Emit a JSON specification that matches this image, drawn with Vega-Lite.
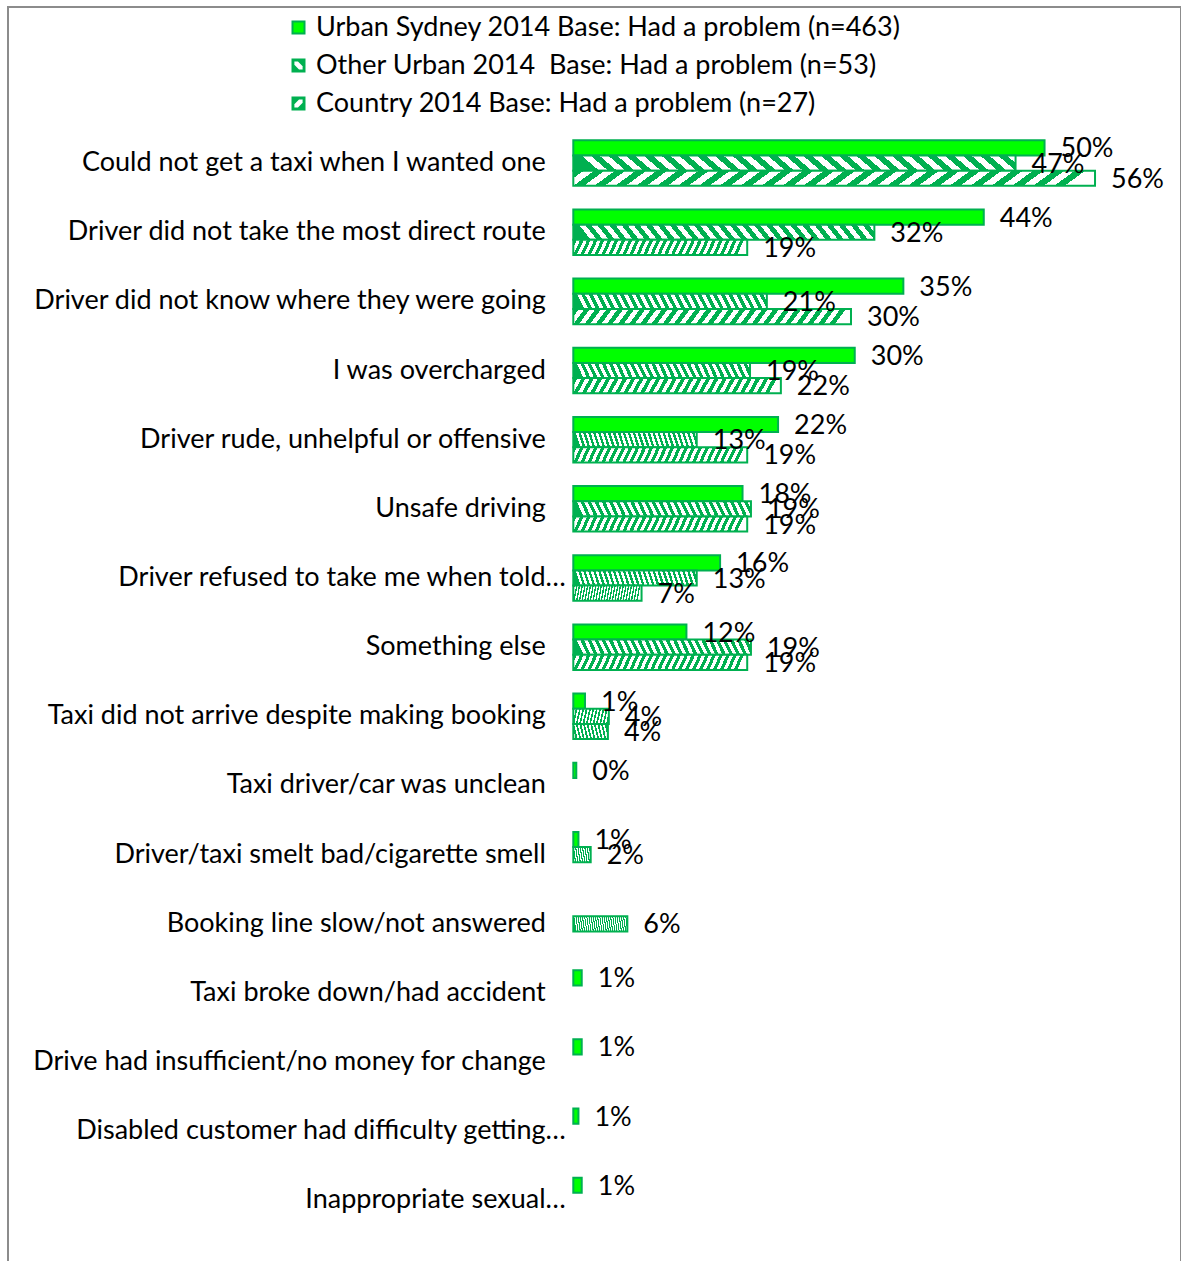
{
  "$schema": "https://vega.github.io/schema/vega-lite/v6.json",
  "width": 1173,
  "height": 1256,
  "padding": {"left": 8, "top": 7, "right": 0, "bottom": 0},
  "background": "white",
  "view": {"stroke": "#8C8C8C", "strokeWidth": 2},
  "config": {"font": "Lato"},
  "datasets": {
    "rows": [
      {"problem": "Could not get a taxi when I wanted one", "series": "Urban Sydney 2014 Base: Had a problem (n=463)", "value": 0.504},
      {"problem": "Could not get a taxi when I wanted one", "series": "Other Urban 2014\u00a0 Base: Had a problem (n=53)", "value": 0.473},
      {"problem": "Could not get a taxi when I wanted one", "series": "Country 2014 Base: Had a problem (n=27)", "value": 0.558},
      {"problem": "Driver did not take the most direct route", "series": "Urban Sydney 2014 Base: Had a problem (n=463)", "value": 0.439},
      {"problem": "Driver did not take the most direct route", "series": "Other Urban 2014\u00a0 Base: Had a problem (n=53)", "value": 0.322},
      {"problem": "Driver did not take the most direct route", "series": "Country 2014 Base: Had a problem (n=27)", "value": 0.186},
      {"problem": "Driver did not know where they were going", "series": "Urban Sydney 2014 Base: Had a problem (n=463)", "value": 0.353},
      {"problem": "Driver did not know where they were going", "series": "Other Urban 2014\u00a0 Base: Had a problem (n=53)", "value": 0.207},
      {"problem": "Driver did not know where they were going", "series": "Country 2014 Base: Had a problem (n=27)", "value": 0.297},
      {"problem": "I was overcharged", "series": "Urban Sydney 2014 Base: Had a problem (n=463)", "value": 0.301},
      {"problem": "I was overcharged", "series": "Other Urban 2014\u00a0 Base: Had a problem (n=53)", "value": 0.189},
      {"problem": "I was overcharged", "series": "Country 2014 Base: Had a problem (n=27)", "value": 0.222},
      {"problem": "Driver rude, unhelpful or offensive", "series": "Urban Sydney 2014 Base: Had a problem (n=463)", "value": 0.219},
      {"problem": "Driver rude, unhelpful or offensive", "series": "Other Urban 2014\u00a0 Base: Had a problem (n=53)", "value": 0.132},
      {"problem": "Driver rude, unhelpful or offensive", "series": "Country 2014 Base: Had a problem (n=27)", "value": 0.186},
      {"problem": "Unsafe driving", "series": "Urban Sydney 2014 Base: Had a problem (n=463)", "value": 0.181},
      {"problem": "Unsafe driving", "series": "Other Urban 2014\u00a0 Base: Had a problem (n=53)", "value": 0.19},
      {"problem": "Unsafe driving", "series": "Country 2014 Base: Had a problem (n=27)", "value": 0.186},
      {"problem": "Driver refused to take me when told…", "series": "Urban Sydney 2014 Base: Had a problem (n=463)", "value": 0.157},
      {"problem": "Driver refused to take me when told…", "series": "Other Urban 2014\u00a0 Base: Had a problem (n=53)", "value": 0.132},
      {"problem": "Driver refused to take me when told…", "series": "Country 2014 Base: Had a problem (n=27)", "value": 0.073},
      {"problem": "Something else", "series": "Urban Sydney 2014 Base: Had a problem (n=463)", "value": 0.121},
      {"problem": "Something else", "series": "Other Urban 2014\u00a0 Base: Had a problem (n=53)", "value": 0.19},
      {"problem": "Something else", "series": "Country 2014 Base: Had a problem (n=27)", "value": 0.186},
      {"problem": "Taxi did not arrive despite making booking", "series": "Urban Sydney 2014 Base: Had a problem (n=463)", "value": 0.0125},
      {"problem": "Taxi did not arrive despite making booking", "series": "Other Urban 2014\u00a0 Base: Had a problem (n=53)", "value": 0.038},
      {"problem": "Taxi did not arrive despite making booking", "series": "Country 2014 Base: Had a problem (n=27)", "value": 0.037},
      {"problem": "Taxi driver/car was unclean", "series": "Urban Sydney 2014 Base: Had a problem (n=463)", "value": 0.0032},
      {"problem": "Driver/taxi smelt bad/cigarette smell", "series": "Urban Sydney 2014 Base: Had a problem (n=463)", "value": 0.0055},
      {"problem": "Driver/taxi smelt bad/cigarette smell", "series": "Other Urban 2014\u00a0 Base: Had a problem (n=53)", "value": 0.0186},
      {"problem": "Booking line slow/not answered", "series": "Other Urban 2014\u00a0 Base: Had a problem (n=53)", "value": 0.0578},
      {"problem": "Taxi broke down/had accident", "series": "Urban Sydney 2014 Base: Had a problem (n=463)", "value": 0.009},
      {"problem": "Drive had insufficient/no money for change", "series": "Urban Sydney 2014 Base: Had a problem (n=463)", "value": 0.009},
      {"problem": "Disabled customer had difficulty getting…", "series": "Urban Sydney 2014 Base: Had a problem (n=463)", "value": 0.0055},
      {"problem": "Inappropriate sexual…", "series": "Urban Sydney 2014 Base: Had a problem (n=463)", "value": 0.009}
    ]
  },
  "data": {"name": "rows"},
  "encoding": {
    "y": {
      "field": "problem",
      "type": "nominal",
      "sort": null,
      "scale": {
        "domain": ["Could not get a taxi when I wanted one", "Driver did not take the most direct route", "Driver did not know where they were going", "I was overcharged", "Driver rude, unhelpful or offensive", "Unsafe driving", "Driver refused to take me when told…", "Something else", "Taxi did not arrive despite making booking", "Taxi driver/car was unclean", "Driver/taxi smelt bad/cigarette smell", "Booking line slow/not answered", "Taxi broke down/had accident", "Drive had insufficient/no money for change", "Disabled customer had difficulty getting…", "Inappropriate sexual…"],
        "range": [133.3, 1216.2],
        "paddingInner": 0.342,
        "paddingOuter": 0
      },
      "axis": {
        "orient": "left",
        "offset": -565.3,
        "domain": false,
        "ticks": false,
        "tickSize": 0,
        "grid": false,
        "title": null,
        "labelFont": "Lato",
        "labelFontSize": 27,
        "labelColor": "#000000",
        "labelLimit": 0,
        "labelPadding": {"condition": {"test": "indexof(datum.value, '…') >= 0", "value": 8}, "value": 28}
      }
    },
    "yOffset": {
      "field": "series",
      "type": "nominal",
      "scale": {
        "domain": ["Urban Sydney 2014 Base: Had a problem (n=463)", "Other Urban 2014\u00a0 Base: Had a problem (n=53)", "Country 2014 Base: Had a problem (n=27)"],
        "paddingInner": 0,
        "paddingOuter": 0
      }
    },
    "x": {
      "field": "value",
      "type": "quantitative",
      "scale": {"domain": [0, 0.6], "range": [565.3, 1126.3], "nice": false, "zero": true},
      "axis": null
    }
  },
  "layer": [
    {
      "mark": {"type": "bar", "stroke": "#00B050", "strokeWidth": 2},
      "encoding": {
        "fill": {
          "condition": [
            {"test": "datum.series === 'Other Urban 2014\u00a0 Base: Had a problem (n=53)'", "value": {"gradient": "linear", "x1": 0, "y1": 0.04, "x2": 1, "y2": 0, "stops": [
                {"offset": 0, "color": "#00B050"}, {"offset": 0.02, "color": "#00B050"}, {"offset": 0.02, "color": "#FFFFFF"}, {"offset": 0.04, "color": "#FFFFFF"},
                {"offset": 0.04, "color": "#00B050"}, {"offset": 0.06, "color": "#00B050"}, {"offset": 0.06, "color": "#FFFFFF"}, {"offset": 0.08, "color": "#FFFFFF"},
                {"offset": 0.08, "color": "#00B050"}, {"offset": 0.1, "color": "#00B050"}, {"offset": 0.1, "color": "#FFFFFF"}, {"offset": 0.12, "color": "#FFFFFF"},
                {"offset": 0.12, "color": "#00B050"}, {"offset": 0.14, "color": "#00B050"}, {"offset": 0.14, "color": "#FFFFFF"}, {"offset": 0.16, "color": "#FFFFFF"},
                {"offset": 0.16, "color": "#00B050"}, {"offset": 0.18, "color": "#00B050"}, {"offset": 0.18, "color": "#FFFFFF"}, {"offset": 0.2, "color": "#FFFFFF"},
                {"offset": 0.2, "color": "#00B050"}, {"offset": 0.22, "color": "#00B050"}, {"offset": 0.22, "color": "#FFFFFF"}, {"offset": 0.24, "color": "#FFFFFF"},
                {"offset": 0.24, "color": "#00B050"}, {"offset": 0.26, "color": "#00B050"}, {"offset": 0.26, "color": "#FFFFFF"}, {"offset": 0.28, "color": "#FFFFFF"},
                {"offset": 0.28, "color": "#00B050"}, {"offset": 0.3, "color": "#00B050"}, {"offset": 0.3, "color": "#FFFFFF"}, {"offset": 0.32, "color": "#FFFFFF"},
                {"offset": 0.32, "color": "#00B050"}, {"offset": 0.34, "color": "#00B050"}, {"offset": 0.34, "color": "#FFFFFF"}, {"offset": 0.36, "color": "#FFFFFF"},
                {"offset": 0.36, "color": "#00B050"}, {"offset": 0.38, "color": "#00B050"}, {"offset": 0.38, "color": "#FFFFFF"}, {"offset": 0.4, "color": "#FFFFFF"},
                {"offset": 0.4, "color": "#00B050"}, {"offset": 0.42, "color": "#00B050"}, {"offset": 0.42, "color": "#FFFFFF"}, {"offset": 0.44, "color": "#FFFFFF"},
                {"offset": 0.44, "color": "#00B050"}, {"offset": 0.46, "color": "#00B050"}, {"offset": 0.46, "color": "#FFFFFF"}, {"offset": 0.48, "color": "#FFFFFF"},
                {"offset": 0.48, "color": "#00B050"}, {"offset": 0.5, "color": "#00B050"}, {"offset": 0.5, "color": "#FFFFFF"}, {"offset": 0.52, "color": "#FFFFFF"},
                {"offset": 0.52, "color": "#00B050"}, {"offset": 0.54, "color": "#00B050"}, {"offset": 0.54, "color": "#FFFFFF"}, {"offset": 0.56, "color": "#FFFFFF"},
                {"offset": 0.56, "color": "#00B050"}, {"offset": 0.58, "color": "#00B050"}, {"offset": 0.58, "color": "#FFFFFF"}, {"offset": 0.6, "color": "#FFFFFF"},
                {"offset": 0.6, "color": "#00B050"}, {"offset": 0.62, "color": "#00B050"}, {"offset": 0.62, "color": "#FFFFFF"}, {"offset": 0.64, "color": "#FFFFFF"},
                {"offset": 0.64, "color": "#00B050"}, {"offset": 0.66, "color": "#00B050"}, {"offset": 0.66, "color": "#FFFFFF"}, {"offset": 0.68, "color": "#FFFFFF"},
                {"offset": 0.68, "color": "#00B050"}, {"offset": 0.7, "color": "#00B050"}, {"offset": 0.7, "color": "#FFFFFF"}, {"offset": 0.72, "color": "#FFFFFF"},
                {"offset": 0.72, "color": "#00B050"}, {"offset": 0.74, "color": "#00B050"}, {"offset": 0.74, "color": "#FFFFFF"}, {"offset": 0.76, "color": "#FFFFFF"},
                {"offset": 0.76, "color": "#00B050"}, {"offset": 0.78, "color": "#00B050"}, {"offset": 0.78, "color": "#FFFFFF"}, {"offset": 0.8, "color": "#FFFFFF"},
                {"offset": 0.8, "color": "#00B050"}, {"offset": 0.82, "color": "#00B050"}, {"offset": 0.82, "color": "#FFFFFF"}, {"offset": 0.84, "color": "#FFFFFF"},
                {"offset": 0.84, "color": "#00B050"}, {"offset": 0.86, "color": "#00B050"}, {"offset": 0.86, "color": "#FFFFFF"}, {"offset": 0.88, "color": "#FFFFFF"},
                {"offset": 0.88, "color": "#00B050"}, {"offset": 0.9, "color": "#00B050"}, {"offset": 0.9, "color": "#FFFFFF"}, {"offset": 0.92, "color": "#FFFFFF"},
                {"offset": 0.92, "color": "#00B050"}, {"offset": 0.94, "color": "#00B050"}, {"offset": 0.94, "color": "#FFFFFF"}, {"offset": 0.96, "color": "#FFFFFF"},
                {"offset": 0.96, "color": "#00B050"}, {"offset": 0.98, "color": "#00B050"}, {"offset": 0.98, "color": "#FFFFFF"}, {"offset": 1, "color": "#FFFFFF"}
              ]}},
            {"test": "datum.series === 'Country 2014 Base: Had a problem (n=27)'", "value": {"gradient": "linear", "x1": 0, "y1": 0, "x2": 1, "y2": 0.04, "stops": [
                {"offset": 0, "color": "#00B050"}, {"offset": 0.02, "color": "#00B050"}, {"offset": 0.02, "color": "#FFFFFF"}, {"offset": 0.04, "color": "#FFFFFF"},
                {"offset": 0.04, "color": "#00B050"}, {"offset": 0.06, "color": "#00B050"}, {"offset": 0.06, "color": "#FFFFFF"}, {"offset": 0.08, "color": "#FFFFFF"},
                {"offset": 0.08, "color": "#00B050"}, {"offset": 0.1, "color": "#00B050"}, {"offset": 0.1, "color": "#FFFFFF"}, {"offset": 0.12, "color": "#FFFFFF"},
                {"offset": 0.12, "color": "#00B050"}, {"offset": 0.14, "color": "#00B050"}, {"offset": 0.14, "color": "#FFFFFF"}, {"offset": 0.16, "color": "#FFFFFF"},
                {"offset": 0.16, "color": "#00B050"}, {"offset": 0.18, "color": "#00B050"}, {"offset": 0.18, "color": "#FFFFFF"}, {"offset": 0.2, "color": "#FFFFFF"},
                {"offset": 0.2, "color": "#00B050"}, {"offset": 0.22, "color": "#00B050"}, {"offset": 0.22, "color": "#FFFFFF"}, {"offset": 0.24, "color": "#FFFFFF"},
                {"offset": 0.24, "color": "#00B050"}, {"offset": 0.26, "color": "#00B050"}, {"offset": 0.26, "color": "#FFFFFF"}, {"offset": 0.28, "color": "#FFFFFF"},
                {"offset": 0.28, "color": "#00B050"}, {"offset": 0.3, "color": "#00B050"}, {"offset": 0.3, "color": "#FFFFFF"}, {"offset": 0.32, "color": "#FFFFFF"},
                {"offset": 0.32, "color": "#00B050"}, {"offset": 0.34, "color": "#00B050"}, {"offset": 0.34, "color": "#FFFFFF"}, {"offset": 0.36, "color": "#FFFFFF"},
                {"offset": 0.36, "color": "#00B050"}, {"offset": 0.38, "color": "#00B050"}, {"offset": 0.38, "color": "#FFFFFF"}, {"offset": 0.4, "color": "#FFFFFF"},
                {"offset": 0.4, "color": "#00B050"}, {"offset": 0.42, "color": "#00B050"}, {"offset": 0.42, "color": "#FFFFFF"}, {"offset": 0.44, "color": "#FFFFFF"},
                {"offset": 0.44, "color": "#00B050"}, {"offset": 0.46, "color": "#00B050"}, {"offset": 0.46, "color": "#FFFFFF"}, {"offset": 0.48, "color": "#FFFFFF"},
                {"offset": 0.48, "color": "#00B050"}, {"offset": 0.5, "color": "#00B050"}, {"offset": 0.5, "color": "#FFFFFF"}, {"offset": 0.52, "color": "#FFFFFF"},
                {"offset": 0.52, "color": "#00B050"}, {"offset": 0.54, "color": "#00B050"}, {"offset": 0.54, "color": "#FFFFFF"}, {"offset": 0.56, "color": "#FFFFFF"},
                {"offset": 0.56, "color": "#00B050"}, {"offset": 0.58, "color": "#00B050"}, {"offset": 0.58, "color": "#FFFFFF"}, {"offset": 0.6, "color": "#FFFFFF"},
                {"offset": 0.6, "color": "#00B050"}, {"offset": 0.62, "color": "#00B050"}, {"offset": 0.62, "color": "#FFFFFF"}, {"offset": 0.64, "color": "#FFFFFF"},
                {"offset": 0.64, "color": "#00B050"}, {"offset": 0.66, "color": "#00B050"}, {"offset": 0.66, "color": "#FFFFFF"}, {"offset": 0.68, "color": "#FFFFFF"},
                {"offset": 0.68, "color": "#00B050"}, {"offset": 0.7, "color": "#00B050"}, {"offset": 0.7, "color": "#FFFFFF"}, {"offset": 0.72, "color": "#FFFFFF"},
                {"offset": 0.72, "color": "#00B050"}, {"offset": 0.74, "color": "#00B050"}, {"offset": 0.74, "color": "#FFFFFF"}, {"offset": 0.76, "color": "#FFFFFF"},
                {"offset": 0.76, "color": "#00B050"}, {"offset": 0.78, "color": "#00B050"}, {"offset": 0.78, "color": "#FFFFFF"}, {"offset": 0.8, "color": "#FFFFFF"},
                {"offset": 0.8, "color": "#00B050"}, {"offset": 0.82, "color": "#00B050"}, {"offset": 0.82, "color": "#FFFFFF"}, {"offset": 0.84, "color": "#FFFFFF"},
                {"offset": 0.84, "color": "#00B050"}, {"offset": 0.86, "color": "#00B050"}, {"offset": 0.86, "color": "#FFFFFF"}, {"offset": 0.88, "color": "#FFFFFF"},
                {"offset": 0.88, "color": "#00B050"}, {"offset": 0.9, "color": "#00B050"}, {"offset": 0.9, "color": "#FFFFFF"}, {"offset": 0.92, "color": "#FFFFFF"},
                {"offset": 0.92, "color": "#00B050"}, {"offset": 0.94, "color": "#00B050"}, {"offset": 0.94, "color": "#FFFFFF"}, {"offset": 0.96, "color": "#FFFFFF"},
                {"offset": 0.96, "color": "#00B050"}, {"offset": 0.98, "color": "#00B050"}, {"offset": 0.98, "color": "#FFFFFF"}, {"offset": 1, "color": "#FFFFFF"}
              ]}}
          ],
          "value": "#00FF00"
        }
      }
    },
    {
      "mark": {"type": "text", "align": "left", "baseline": "middle", "dx": 16, "dy": 1.5, "fontSize": 27, "font": "Lato", "color": "#000000"},
      "encoding": {
        "text": {"field": "value", "type": "quantitative", "format": ".0%"}
      }
    },
    {
      "transform": [{"filter": "datum.value < 0"}],
      "mark": {"type": "point", "filled": true, "strokeWidth": 2, "opacity": 1},
      "encoding": {
        "fill": {
          "field": "series",
          "type": "nominal",
          "scale": {
            "domain": ["Urban Sydney 2014 Base: Had a problem (n=463)", "Other Urban 2014\u00a0 Base: Had a problem (n=53)", "Country 2014 Base: Had a problem (n=27)"],
            "range": ["#00FF00", "#00B050", "#00B050"]
          },
          "legend": {"orient": "none", "legendX": 277, "legendY": 7, "title": null, "padding": 0, "labelFont": "Lato", "labelFontSize": 27, "labelColor": "#000000", "labelLimit": 0, "labelOffset": 4, "rowPadding": 10, "symbolSize": 144, "symbolStrokeWidth": 2, "symbolOpacity": 1}
        },
        "stroke": {
          "field": "series",
          "type": "nominal",
          "scale": {
            "domain": ["Urban Sydney 2014 Base: Had a problem (n=463)", "Other Urban 2014\u00a0 Base: Had a problem (n=53)", "Country 2014 Base: Had a problem (n=27)"],
            "range": ["#00B050", "#00B050", "#00B050"]
          },
          "legend": {"orient": "none", "legendX": 277, "legendY": 7, "title": null, "padding": 0, "labelFont": "Lato", "labelFontSize": 27, "labelColor": "#000000", "labelLimit": 0, "labelOffset": 4, "rowPadding": 10, "symbolSize": 144, "symbolStrokeWidth": 2, "symbolOpacity": 1}
        },
        "shape": {
          "field": "series",
          "type": "nominal",
          "scale": {
            "domain": ["Urban Sydney 2014 Base: Had a problem (n=463)", "Other Urban 2014\u00a0 Base: Had a problem (n=53)", "Country 2014 Base: Had a problem (n=27)"],
            "range": [
              "M-1,-1H1V1H-1Z",
              "M-1,-1H1V1H-1Z M-0.85,-0.85L-0.85,-0.05L0.05,0.85L0.85,0.85L0.85,0.05L-0.05,-0.85Z",
              "M-1,-1H1V1H-1Z M0.85,-0.85L0.05,-0.85L-0.85,0.05L-0.85,0.85L-0.05,0.85L0.85,-0.05Z"
            ]
          },
          "legend": {"orient": "none", "legendX": 277, "legendY": 7, "title": null, "padding": 0, "labelFont": "Lato", "labelFontSize": 27, "labelColor": "#000000", "labelLimit": 0, "labelOffset": 4, "rowPadding": 10, "symbolSize": 144, "symbolStrokeWidth": 2, "symbolOpacity": 1}
        }
      }
    }
  ]
}
